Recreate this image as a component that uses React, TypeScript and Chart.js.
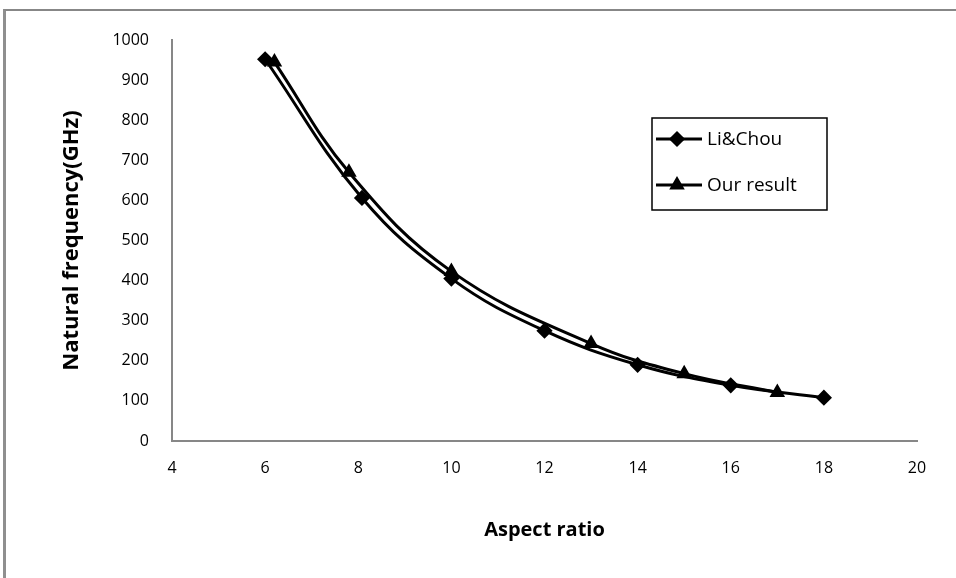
import React, { useEffect, useRef } from "react";
import { Chart, registerables } from "chart.js";
import { drawPoint } from "chart.js/helpers";

Chart.register(...registerables);

const seriesLabels = ["Li&Chou", "Our result"];
const liChouX = [6, 8.08, 10, 12, 14, 16, 18];
const liChouY = [952, 606, 405, 275, 190, 139, 108];
const ourX = [6.2, 7.8, 10, 13, 15, 17];
const ourY = [945, 670, 423, 243, 168, 121];
const xTitle = "Aspect ratio";
const yTitle = "Natural frequency(GHz)";
const xMin = 4, xMax = 20, xStep = 2;
const yMin = 0, yMax = 1000, yStep = 100;

const FONT = "'Open Sans', 'Noto Sans', sans-serif";

const boxLegend = {
  id: "boxLegend",
  afterDraw(chart: any) {
    const ctx = chart.ctx;
    const x0 = 652, y0 = 118, w = 175, h = 92;
    ctx.save();
    ctx.strokeStyle = "#000";
    ctx.lineWidth = 1.5;
    ctx.strokeRect(x0, y0, w, h);
    chart.data.datasets.forEach((ds: any, i: number) => {
      const y = y0 + 21 + i * 46;
      ctx.strokeStyle = ds.borderColor;
      ctx.lineWidth = ds.borderWidth;
      ctx.beginPath();
      ctx.moveTo(x0 + 4, y);
      ctx.lineTo(x0 + 50, y);
      ctx.stroke();
      ctx.fillStyle = ds.pointBackgroundColor;
      drawPoint(ctx, { pointStyle: ds.pointStyle, radius: ds.pointRadius, borderWidth: 1, rotation: 0 }, x0 + 25, y);
      ctx.fillStyle = "#000";
      ctx.font = `19px ${FONT}`;
      ctx.textBaseline = "middle";
      ctx.textAlign = "left";
      ctx.fillText(ds.label, x0 + 55, y + 1);
    });
    ctx.restore();
  },
};

export default function App() {
  const ref = useRef<HTMLCanvasElement>(null);
  useEffect(() => {
    if (!ref.current) return;
    const chart = new Chart(ref.current, {
      type: "scatter",
      data: {
        datasets: [
          {
            label: seriesLabels[0],
            data: liChouX.map((x, i) => ({ x, y: liChouY[i] })),
            showLine: true,
            borderColor: "#000",
            backgroundColor: "#000",
            pointBackgroundColor: "#000",
            pointBorderColor: "#000",
            borderWidth: 3,
            pointStyle: "rectRot",
            pointRadius: 6,
            tension: 0.4,
          },
          {
            label: seriesLabels[1],
            data: ourX.map((x, i) => ({ x, y: ourY[i] })),
            showLine: true,
            borderColor: "#000",
            backgroundColor: "#000",
            pointBackgroundColor: "#000",
            pointBorderColor: "#000",
            borderWidth: 3,
            pointStyle: "triangle",
            pointRadius: 6,
            tension: 0.4,
          },
        ] as any,
      },
      options: {
        animation: false,
        responsive: false,
        maintainAspectRatio: false,
        layout: { padding: { left: 0, top: 40, right: 39, bottom: 0 } },
        plugins: { legend: { display: false }, tooltip: { enabled: false } },
        scales: {
          x: {
            type: "linear",
            min: xMin,
            max: xMax,
            afterFit: (s: any) => { s.height = 137; },
            grid: { display: false, drawTicks: false },
            border: { display: true, color: "#878787", width: 2 },
            ticks: { stepSize: xStep, padding: 18, color: "#000", font: { family: FONT, size: 16 }, callback: (v: any) => String(v) },
            title: { display: true, text: xTitle, color: "#000", padding: { top: 0, bottom: 36 }, font: { family: FONT, size: 20, weight: "bold" } },
          },
          y: {
            type: "linear",
            min: yMin,
            max: yMax,
            afterFit: (s: any) => { s.width = 172; },
            grid: { display: false, drawTicks: false },
            border: { display: true, color: "#878787", width: 2 },
            ticks: { stepSize: yStep, padding: 23, color: "#000", font: { family: FONT, size: 16 }, callback: (v: any) => String(v) },
            title: { display: true, text: yTitle, color: "#000", padding: { top: 59, bottom: 0 }, font: { family: FONT, size: 22, weight: "bold" } },
          },
        },
      } as any,
      plugins: [boxLegend],
    });
    return () => chart.destroy();
  }, []);
  return (
    <div style={{ position: "fixed", left: 0, top: 0, width: 956, height: 578, overflow: "hidden", background: "#fff" }}>
      <div style={{ position: "absolute", left: 3, top: 9, width: 1000, height: 700, borderTop: "2px solid #878787", borderLeft: "3px solid #8f8f8f" }} />
      <canvas ref={ref} width={956} height={578} style={{ position: "absolute", left: 0, top: 0 }} />
    </div>
  );
}
